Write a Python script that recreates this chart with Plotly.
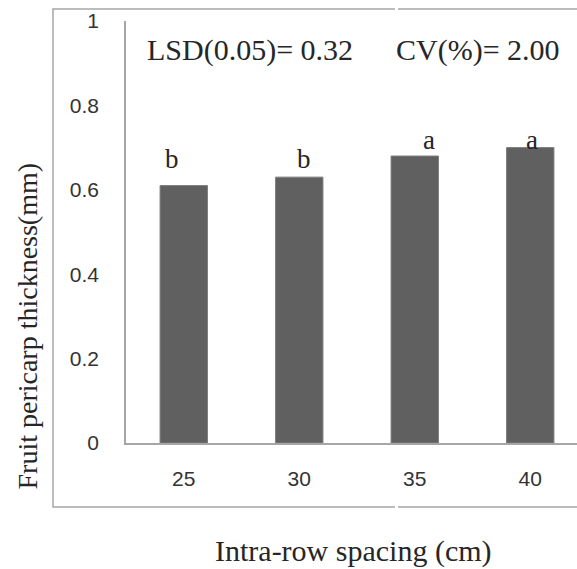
import plotly.graph_objects as go

# Data
categories = ["25", "30", "35", "40"]
thickness = [0.61, 0.63, 0.68, 0.70]
letters = ["b", "b", "a", "a"]
y_tick_vals = [0, 0.2, 0.4, 0.6, 0.8, 1.0]
y_tick_text = ["0", "0.2", "0.4", "0.6", "0.8", "1"]

# letter placement offsets (position/style only)
letter_dx = [-0.106, 0.037, 0.123, 0.015]
letter_y = {"b": 0.673, "a": 0.719}

W, H = 577, 569
L, R, T, B = 126, 0, 21, 126
pw = W - L - R
ph = H - T - B

def px_x(px):
    return (px - L) / pw

def px_y(py):
    return (H - B - py) / ph

xpos = list(range(len(categories)))

fig = go.Figure()
fig.add_trace(go.Bar(
    x=xpos, y=thickness, width=0.41,
    marker=dict(color="#606060", line=dict(color="#7c7c7c", width=1)),
    hoverinfo="skip",
))

serif = "Liberation Serif, Times New Roman, serif"
sans = "Liberation Sans, Arial, sans-serif"

annotations = []
for i, (v, lt) in enumerate(zip(thickness, letters)):
    annotations.append(dict(
        x=xpos[i] + letter_dx[i], y=letter_y[lt], xref="x", yref="y",
        text=lt, showarrow=False, xanchor="center", yanchor="middle",
        font=dict(family=serif, size=27, color="#262626"),
    ))

annotations += [
    dict(x=px_x(145), y=px_y(50), xref="paper", yref="paper",
         text="LSD(0.05)= 0.32", showarrow=False, xanchor="left", yanchor="middle",
         font=dict(family=serif, size=30, color="#262626")),
    dict(x=px_x(394), y=px_y(50), xref="paper", yref="paper",
         text="CV(%)= 2.00", showarrow=False, xanchor="left", yanchor="middle",
         font=dict(family=serif, size=30, color="#262626")),
    dict(x=px_x(353), y=px_y(551), xref="paper", yref="paper",
         text="Intra-row spacing (cm)", showarrow=False, xanchor="center", yanchor="middle",
         font=dict(family=serif, size=30, color="#262626")),
    dict(x=px_x(27), y=px_y(326.5), xref="paper", yref="paper",
         text="Fruit pericarp thickness(mm)", showarrow=False, textangle=-90,
         xanchor="center", yanchor="middle",
         font=dict(family=serif, size=28, color="#262626")),
]

shapes = [
    dict(type="rect", xref="paper", yref="paper",
         x0=px_x(53), x1=px_x(600), y0=px_y(507), y1=px_y(9),
         line=dict(color="#a6a6a6", width=1.5), fillcolor="rgba(0,0,0,0)", layer="below"),
    dict(type="line", xref="paper", yref="paper",
         x0=px_x(395), x1=px_x(398), y0=px_y(9), y1=px_y(9),
         line=dict(color="white", width=3)),
    dict(type="line", xref="paper", yref="paper",
         x0=px_x(395), x1=px_x(398), y0=px_y(507), y1=px_y(507),
         line=dict(color="white", width=3)),
]

fig.update_layout(
    width=W, height=H,
    margin=dict(l=L, r=R, t=T, b=B),
    paper_bgcolor="white", plot_bgcolor="white",
    showlegend=False,
    annotations=annotations,
    shapes=shapes,
    xaxis=dict(
        range=[-0.5, 3.5 - 11 / 115.5],
        tickvals=xpos, ticktext=categories,
        showline=True, linecolor="#a6a6a6", linewidth=1.5,
        showgrid=False, zeroline=False,
        ticks="outside", ticklen=0, tickcolor="white",
        ticklabelstandoff=16,
        tickfont=dict(family=sans, size=21, color="#333333"),
    ),
    yaxis=dict(
        range=[0, 1],
        tickvals=y_tick_vals, ticktext=y_tick_text,
        showline=True, linecolor="#a6a6a6", linewidth=1.5,
        showgrid=False, zeroline=False,
        ticks="outside", ticklen=0, tickcolor="white",
        ticklabelstandoff=21,
        tickfont=dict(family=sans, size=21, color="#333333"),
    ),
)

fig.write_html("out.html", config={"displayModeBar": False},
               post_script="document.body.style.margin='0';document.body.style.overflow='hidden';")
